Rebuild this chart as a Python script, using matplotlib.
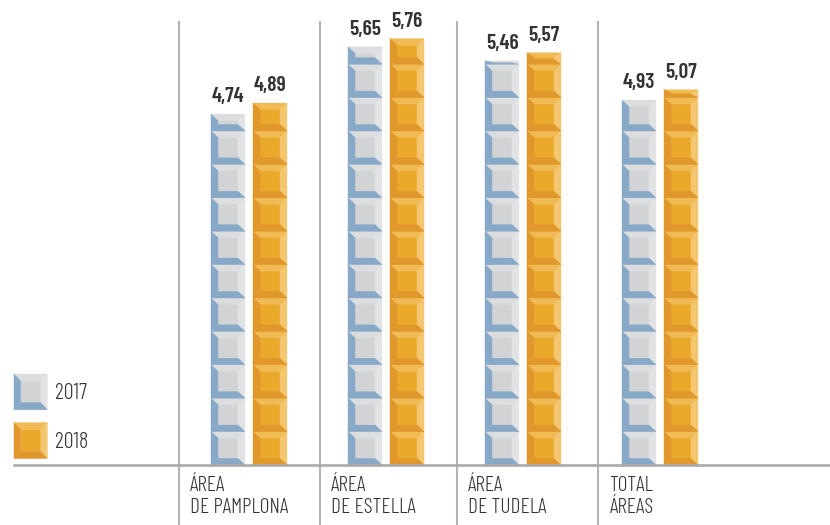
import matplotlib
matplotlib.use('Agg')
import matplotlib.pyplot as plt
from matplotlib.patches import Polygon
from matplotlib.legend_handler import HandlerBase

# data
areas = ['ÁREA\nDE PAMPLONA', 'ÁREA\nDE ESTELLA', 'ÁREA\nDE TUDELA', 'TOTAL\nÁREAS']
years = ['2017', '2018']
v2017 = [4.74, 5.65, 5.46, 4.93]
v2018 = [4.89, 5.76, 5.57, 5.07]

# look: (center, left/bottom, top, right)
COLS_2017 = ('#d1d3d5', '#88a8c8', '#dcdddf', '#e2e3e5')
COLS_2018 = ('#eba92b', '#e0972b', '#f0bb55', '#f3c66f')

PX_X = 137.0   # pixels per category step
PX_Y = 74.0    # pixels per value unit
BLOCK = 33.4 / PX_Y
FONT = ['Barlow Condensed', 'DejaVu Sans']


def bevel_block(x0, y0, w, h, bx, by, cols, trans=None):
    center, dark, top, right = cols
    x1, y1 = x0 + w, y0 + h
    by = min(by, h / 2.5)
    shapes = [
        ([(x0 + bx, y0 + by), (x1 - bx, y0 + by), (x1 - bx, y1 - by), (x0 + bx, y1 - by)], center),
        ([(x0, y1), (x1, y1), (x1 - bx, y1 - by), (x0 + bx, y1 - by)], top),
        ([(x1, y0), (x1, y1), (x1 - bx, y1 - by), (x1 - bx, y0 + by)], right),
        ([(x0, y0), (x0 + bx, y0 + by), (x0 + bx, y1 - by), (x0, y1)], dark),
        ([(x0, y0), (x1, y0), (x1 - bx, y0 + by), (x0 + bx, y0 + by)], dark),
    ]
    out = []
    for pts, c in shapes:
        p = Polygon(pts, closed=True, facecolor=c, edgecolor=c, linewidth=0.3)
        if trans is not None:
            p.set_transform(trans)
        out.append(p)
    return out


class BlockHandler(HandlerBase):
    def __init__(self, cols):
        super().__init__()
        self.cols = cols

    def create_artists(self, legend, orig_handle, xdescent, ydescent,
                       width, height, fontsize, trans):
        return bevel_block(-xdescent, -ydescent, width, height,
                           0.2 * width, 0.2 * height, self.cols, trans)


fig = plt.figure(figsize=(8.3, 5.25), dpi=100)
ax = fig.add_axes([0, 0, 1, 1])
ax.set_xlim(-249 / PX_X, 581 / PX_X)
ax.set_ylim(-60 / PX_Y, 465 / PX_Y)
ax.axis('off')

x = list(range(len(areas)))
off = 21 / PX_X
bw = 34 / PX_X

bars = []
for vals, cols, sign in [(v2017, COLS_2017, -1), (v2018, COLS_2018, 1)]:
    b = ax.bar([i + sign * off for i in x], vals, width=bw, color=cols[0], linewidth=0)
    bars.append(b)
    for rect in b:
        x0, w, h = rect.get_x(), rect.get_width(), rect.get_height()
        y = 0.0
        while y < h - 1e-6:
            bh = min(BLOCK, h - y)
            for p in bevel_block(x0, y, w, bh, 7 / PX_X, 6.5 / PX_Y, cols):
                ax.add_patch(p)
            y += BLOCK
        ax.text(x0 + w / 2, h + 12 / PX_Y, f'{h:.2f}'.replace('.', ','),
                ha='center', va='baseline', fontsize=15.5, color='#333333',
                family=FONT, weight=600)

# separators and baseline
seps = [-0.51, 0.52, 1.52, 2.55]
for s in seps:
    ax.axvline(s, ymin=0, ymax=(525 - 22) / 525, color='#b3b3b3', lw=1.5, zorder=5)
ax.axhline(0, xmin=14 / 830, xmax=1, color='#aaaaaa', lw=1.9, zorder=6)

for s, lab in zip(seps, areas):
    ax.text(s + 11 / PX_X, -11 / PX_Y, lab, ha='left', va='top',
            fontsize=15.5, color='#333333', family=FONT, weight=300,
            linespacing=1.2)

ax.legend(bars, years, handler_map={bars[0]: BlockHandler(COLS_2017),
                                    bars[1]: BlockHandler(COLS_2018)},
          loc='upper left', bbox_to_anchor=(14 / 830, 1 - 374 / 525),
          frameon=False, borderpad=0, borderaxespad=0,
          handlelength=1.5, handleheight=2.1, handletextpad=0.35,
          labelspacing=0.58, prop={'family': FONT, 'size': 16, 'weight': 300},
          labelcolor='#333333')

plt.savefig('out.png', dpi=100)
